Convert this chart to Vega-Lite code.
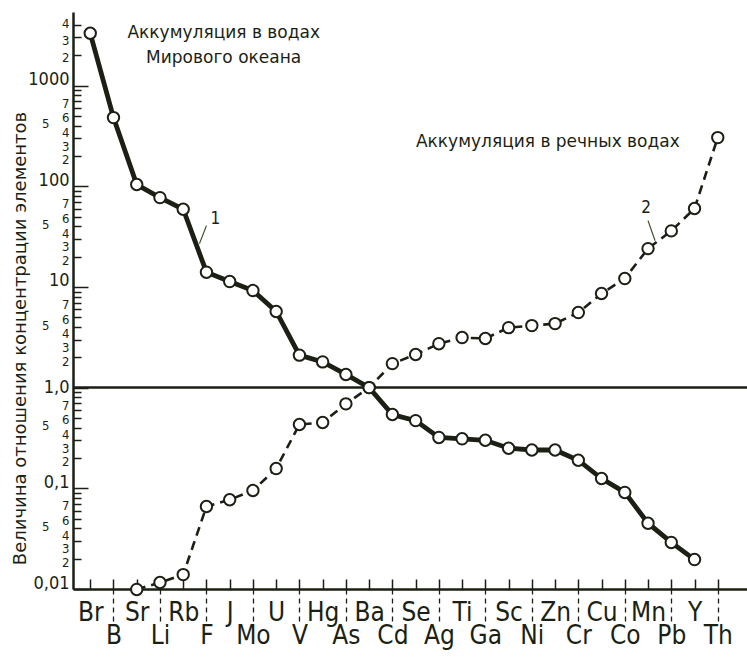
{
  "$schema": "https://vega.github.io/schema/vega-lite/v6.json",
  "width": 674,
  "height": 577,
  "autosize": {"type": "none"},
  "padding": {"left": 73, "top": 12, "right": 0, "bottom": 70},
  "background": "white",
  "config": {"view": {"stroke": null}},
  "data": {
    "values": [
      {"element": "Br", "series": "ocean", "value": 3300},
      {"element": "B", "series": "ocean", "value": 480},
      {"element": "Sr", "series": "ocean", "value": 104},
      {"element": "Li", "series": "ocean", "value": 77},
      {"element": "Rb", "series": "ocean", "value": 59},
      {"element": "F", "series": "ocean", "value": 14},
      {"element": "J", "series": "ocean", "value": 11.3},
      {"element": "Mo", "series": "ocean", "value": 9.2},
      {"element": "U", "series": "ocean", "value": 5.7},
      {"element": "V", "series": "ocean", "value": 2.1},
      {"element": "Hg", "series": "ocean", "value": 1.8},
      {"element": "As", "series": "ocean", "value": 1.35},
      {"element": "Ba", "series": "ocean", "value": 1.0},
      {"element": "Cd", "series": "ocean", "value": 0.54},
      {"element": "Se", "series": "ocean", "value": 0.47},
      {"element": "Ag", "series": "ocean", "value": 0.32},
      {"element": "Ti", "series": "ocean", "value": 0.31},
      {"element": "Ga", "series": "ocean", "value": 0.30},
      {"element": "Sc", "series": "ocean", "value": 0.25},
      {"element": "Ni", "series": "ocean", "value": 0.24},
      {"element": "Zn", "series": "ocean", "value": 0.24},
      {"element": "Cr", "series": "ocean", "value": 0.19},
      {"element": "Cu", "series": "ocean", "value": 0.125},
      {"element": "Co", "series": "ocean", "value": 0.091},
      {"element": "Mn", "series": "ocean", "value": 0.045},
      {"element": "Pb", "series": "ocean", "value": 0.029},
      {"element": "Y", "series": "ocean", "value": 0.0196},
      {"element": "Sr", "series": "river", "value": 0.0099},
      {"element": "Li", "series": "river", "value": 0.0116},
      {"element": "Rb", "series": "river", "value": 0.0139},
      {"element": "F", "series": "river", "value": 0.066},
      {"element": "J", "series": "river", "value": 0.077},
      {"element": "Mo", "series": "river", "value": 0.095},
      {"element": "U", "series": "river", "value": 0.157},
      {"element": "V", "series": "river", "value": 0.43},
      {"element": "Hg", "series": "river", "value": 0.45},
      {"element": "As", "series": "river", "value": 0.69},
      {"element": "Ba", "series": "river", "value": 1.0},
      {"element": "Cd", "series": "river", "value": 1.73},
      {"element": "Se", "series": "river", "value": 2.13},
      {"element": "Ag", "series": "river", "value": 2.73},
      {"element": "Ti", "series": "river", "value": 3.14},
      {"element": "Ga", "series": "river", "value": 3.07},
      {"element": "Sc", "series": "river", "value": 3.94},
      {"element": "Ni", "series": "river", "value": 4.13},
      {"element": "Zn", "series": "river", "value": 4.32},
      {"element": "Cr", "series": "river", "value": 5.56},
      {"element": "Cu", "series": "river", "value": 8.6},
      {"element": "Co", "series": "river", "value": 12.1},
      {"element": "Mn", "series": "river", "value": 24},
      {"element": "Pb", "series": "river", "value": 36},
      {"element": "Y", "series": "river", "value": 60},
      {"element": "Th", "series": "river", "value": 304}
    ]
  },
  "resolve": {"axis": {"x": "independent"}},
  "layer": [
    {
      "data": {"values": [{}]},
      "mark": {"type": "rule", "color": "#1b1f14", "strokeWidth": 2.5},
      "encoding": {"y": {"datum": 1, "type": "quantitative"}}
    },
    {
      "transform": [{"filter": "datum.series === 'ocean'"}],
      "mark": {"type": "line", "color": "#1b1f14", "strokeWidth": 4.8},
      "encoding": {
        "x": {
          "field": "element",
          "type": "ordinal",
          "sort": ["Br","B","Sr","Li","Rb","F","J","Mo","U","V","Hg","As","Ba","Cd","Se","Ag","Ti","Ga","Sc","Ni","Zn","Cr","Cu","Co","Mn","Pb","Y","Th"],
          "scale": {
            "type": "point",
            "domain": ["Br","B","Sr","Li","Rb","F","J","Mo","U","V","Hg","As","Ba","Cd","Se","Ag","Ti","Ga","Sc","Ni","Zn","Cr","Cu","Co","Mn","Pb","Y","Th"],
            "padding": 1.366,
            "align": 0.371
          },
          "axis": {
            "orient": "bottom",
            "title": null,
            "domain": true,
            "domainWidth": 2.5,
            "domainColor": "#1b1f14",
            "ticks": true,
            "tickSize": 36,
            "tickDash": [5, 4],
            "tickWidth": 1.3,
            "tickColor": "#1b1f14",
            "tickOpacity": {"condition": {"test": "indexof(['B','Li','F','Mo','V','As','Cd','Ag','Ga','Ni','Cr','Co','Pb','Th'], datum.value) >= 0", "value": 1}, "value": 0},
            "labelExpr": "indexof(['B','Li','F','Mo','V','As','Cd','Ag','Ga','Ni','Cr','Co','Pb','Th'], datum.value) >= 0 ? ['', datum.value] : datum.value",
            "labelAngle": 0,
            "labelPadding": -26,
            "labelBaseline": "top",
            "labelFont": "DejaVu Sans Condensed, Liberation Sans Narrow, sans-serif",
            "labelFontSize": 26,
            "labelLineHeight": 23,
            "labelColor": "#1b1f14"
          }
        },
        "y": {
          "field": "value",
          "type": "quantitative",
          "scale": {"type": "log", "domain": [0.01, 5370], "nice": false},
          "axis": {
            "title": "Величина отношения концентрации элементов",
            "titleFont": "DejaVu Sans",
            "titleFontSize": 18,
            "titleFontWeight": "normal",
            "titleColor": "#1b1f14",
            "titleX": -48,
            "titleY": 326,
            "titleBaseline": "alphabetic",
            "titleAngle": -90,
            "values": [0.01,0.02,0.03,0.04,0.05,0.06,0.07,0.08,0.09,0.1,0.2,0.3,0.4,0.5,0.6,0.7,0.8,0.9,1,2,3,4,5,6,7,8,9,10,20,30,40,50,60,70,80,90,100,200,300,400,500,600,700,800,900,1000,2000,3000,4000],
            "labelExpr": "abs(datum.value-0.01)<1e-6 ? '0,01' : abs(datum.value-0.1)<1e-6 ? '0,1' : abs(datum.value-1)<1e-6 ? '1,0' : abs(datum.value-10)<1e-6 ? '10' : abs(datum.value-100)<1e-6 ? '100' : abs(datum.value-1000)<1e-4 ? '1000' : (round(datum.value/pow(10, floor(log(datum.value)/LN10 + 1e-6))) <= 7 ? '' + round(datum.value/pow(10, floor(log(datum.value)/LN10 + 1e-6))) : '')",
            "labelOverlap": false,
            "labelBound": false,
            "labelFlush": false,
            "labelFont": "DejaVu Sans Condensed, Liberation Sans Narrow, sans-serif",
            "labelFontSize": {"condition": {"test": "abs(log(datum.value)/LN10 - round(log(datum.value)/LN10)) < 0.001", "value": 18}, "value": 13},
            "labelColor": "#1b1f14",
            "labelPadding": {"condition": [
              {"test": "abs(log(datum.value)/LN10 - round(log(datum.value)/LN10)) < 0.001", "value": 19},
              {"test": "round(datum.value/pow(10, floor(log(datum.value)/LN10 + 1e-6))) == 5", "value": 32}
            ], "value": 12},
            "labelOffset": {"condition": [
              {"test": "abs(datum.value-1)<1e-6", "value": 0},
              {"test": "abs(log(datum.value)/LN10 - round(log(datum.value)/LN10)) < 0.001", "value": -6},
              {"test": "datum.value > 3500", "value": -1},
              {"test": "datum.value > 2500", "value": 3},
              {"test": "datum.value > 1500", "value": 2},
              {"test": "round(datum.value/pow(10, floor(log(datum.value)/LN10 + 1e-6))) == 6", "value": 10},
              {"test": "round(datum.value/pow(10, floor(log(datum.value)/LN10 + 1e-6))) == 5", "value": 8},
              {"test": "round(datum.value/pow(10, floor(log(datum.value)/LN10 + 1e-6))) == 4", "value": 7},
              {"test": "round(datum.value/pow(10, floor(log(datum.value)/LN10 + 1e-6))) == 3", "value": 8},
              {"test": "round(datum.value/pow(10, floor(log(datum.value)/LN10 + 1e-6))) == 2", "value": 4}
            ], "value": 2},
            "tickSize": {"condition": {"test": "abs(log(datum.value)/LN10 - round(log(datum.value)/LN10)) < 0.001", "value": -15}, "value": -8},
            "tickWidth": 1.5,
            "tickColor": "#1b1f14",
            "domainWidth": 2.5,
            "domainColor": "#1b1f14",
            "grid": false
          }
        }
      }
    },
    {
      "transform": [{"filter": "datum.series === 'river'"}],
      "mark": {"type": "line", "color": "#1b1f14", "strokeWidth": 2.6, "strokeDash": [9, 6]},
      "encoding": {
        "x": {"field": "element", "type": "ordinal", "axis": null},
        "y": {"field": "value", "type": "quantitative"}
      }
    },
    {
      "mark": {"type": "point", "shape": "circle", "filled": true, "fill": "white", "stroke": "#1b1f14", "strokeWidth": 2, "size": 130, "opacity": 1},
      "encoding": {
        "x": {
          "field": "element",
          "type": "ordinal",
          "axis": {"orient": "bottom", "title": null, "labels": false, "domain": false, "tickSize": -10, "tickWidth": 1.5, "tickColor": "#1b1f14"}
        },
        "y": {"field": "value", "type": "quantitative"}
      }
    },
    {
      "data": {"values": [{}]},
      "mark": {"type": "text", "text": ["Аккумуляция в водах", "Мирового океана"], "font": "DejaVu Sans", "fontSize": 17, "fontWeight": "normal", "lineHeight": 25, "align": "center", "baseline": "alphabetic", "dx": -6, "fill": "#1b1f14"},
      "encoding": {"x": {"datum": "J", "axis": null}, "y": {"datum": 2990}}
    },
    {
      "data": {"values": [{}]},
      "mark": {"type": "text", "text": "Аккумуляция в речных водах", "font": "DejaVu Sans", "fontSize": 17, "fontWeight": "normal", "align": "center", "baseline": "alphabetic", "dx": 16, "fill": "#1b1f14"},
      "encoding": {"x": {"datum": "Ni", "axis": null}, "y": {"datum": 247}}
    },
    {
      "data": {"values": [{}]},
      "mark": {"type": "text", "text": "1", "font": "DejaVu Sans Condensed, Liberation Sans Narrow, sans-serif", "fontSize": 17, "fontWeight": "normal", "align": "center", "baseline": "middle", "dx": 9, "fill": "#1b1f14"},
      "encoding": {"x": {"datum": "F", "axis": null}, "y": {"datum": 47.7}}
    },
    {
      "data": {"values": [{}]},
      "mark": {"type": "text", "text": "2", "font": "DejaVu Sans Condensed, Liberation Sans Narrow, sans-serif", "fontSize": 17, "fontWeight": "normal", "align": "center", "baseline": "middle", "dx": -2, "fill": "#1b1f14"},
      "encoding": {"x": {"datum": "Mn", "axis": null}, "y": {"datum": 61.3}}
    },
    {
      "data": {"values": [{}]},
      "mark": {"type": "rule", "color": "#3a4a2a", "strokeWidth": 1.2},
      "encoding": {
        "x": {"datum": "F", "axis": null},
        "x2": {"datum": "F"},
        "xOffset": {"value": -7},
        "x2Offset": {"value": 8},
        "y": {"datum": 26.9},
        "y2": {"datum": 40.6}
      }
    },
    {
      "data": {"values": [{}]},
      "mark": {"type": "rule", "color": "#3a4a2a", "strokeWidth": 1.2},
      "encoding": {
        "x": {"datum": "Mn", "axis": null},
        "x2": {"datum": "Mn"},
        "xOffset": {"value": 7},
        "x2Offset": {"value": 3},
        "y": {"datum": 28.8},
        "y2": {"datum": 45.5}
      }
    }
  ]
}
